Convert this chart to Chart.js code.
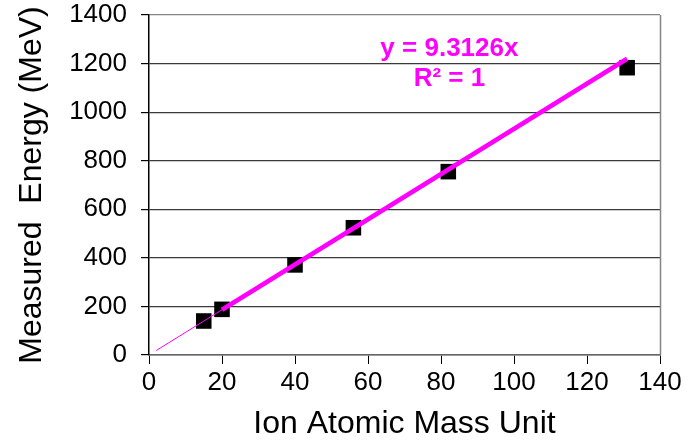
<!DOCTYPE html>
<html>
<head>
<meta charset="utf-8">
<script src="https://cdn.jsdelivr.net/npm/chart.js@4/dist/chart.umd.min.js"></script>
<style>
html,body{margin:0;padding:0;background:#fff;}
#wrap{width:688px;height:443px;}
</style>
</head>
<body>
<div id="wrap"><canvas id="c" width="688" height="443"></canvas></div>
<script>
// Data
const ionMass = [15, 20, 40, 56, 82, 131];
const measuredEnergy = [140, 188, 371, 524, 755, 1183];
// Trendline y = 9.3126x (thin backward part, then thick part)
const trendThinX = [2, 20];
const trendThinY = [18.6, 186.3];
const trendThickX = [20, 131];
const trendThickY = [186.3, 1220];
const xTicks = [0, 20, 40, 60, 80, 100, 120, 140];
const yTicks = [0, 200, 400, 600, 800, 1000, 1200, 1400];
const equationText = "y = 9.3126x";
const r2Text = "R\u00B2 = 1";
const xTitle = "Ion Atomic Mass Unit";
const yTitle = "Measured  Energy (MeV)";

const toPts = (xs, ys) => xs.map((x, i) => ({x: x, y: ys[i]}));

const FONT = "'Liberation Sans', Arial, sans-serif";

const extras = {
  id: 'extras',
  afterDatasetsDraw(chart) {
    const ctx = chart.ctx;
    const a = chart.chartArea;
    const xs = chart.scales.x, ys = chart.scales.y;
    ctx.save();
    // right border of plot area
    ctx.strokeStyle = '#858585';
    ctx.lineWidth = 1.5;
    ctx.beginPath();
    ctx.moveTo(Math.round(a.right) + 0.5, a.top);
    ctx.lineTo(Math.round(a.right) + 0.5, a.bottom);
    ctx.stroke();
    // equation text
    ctx.fillStyle = '#ff00ff';
    ctx.font = "bold 26px " + FONT;
    ctx.textAlign = 'center';
    ctx.textBaseline = 'alphabetic';
    ctx.fillText(equationText, xs.getPixelForValue(82.3), ys.getPixelForValue(1233));
    ctx.fillText(r2Text, xs.getPixelForValue(82.3), ys.getPixelForValue(1107));
    ctx.restore();
  }
};

new Chart(document.getElementById('c'), {
  type: 'scatter',
  data: {
    datasets: [
      {
        data: toPts(trendThickX, trendThickY),
        showLine: true,
        borderColor: '#ff00ff',
        borderWidth: 4.5,
        pointRadius: 0,
        order: 0
      },
      {
        data: toPts(trendThinX, trendThinY),
        showLine: true,
        borderColor: '#ff00ff',
        borderWidth: 1,
        pointRadius: 0,
        order: 1
      },
      {
        data: toPts(ionMass, measuredEnergy),
        showLine: false,
        pointStyle: 'rect',
        pointRadius: 11,
        pointBackgroundColor: '#000',
        pointBorderColor: '#000',
        pointBorderWidth: 0,
        order: 2
      }
    ]
  },
  options: {
    responsive: false,
    animation: false,
    devicePixelRatio: 1,
    layout: {padding: {top: 15, right: 28, bottom: 0, left: 0}},
    plugins: {legend: {display: false}, tooltip: {enabled: false}},
    scales: {
      x: {
        type: 'linear',
        min: 0, max: 140,
        afterBuildTicks: s => { s.ticks = xTicks.map(v => ({value: v})); },
        afterFit: s => { s.height = 88; s.paddingLeft = 0; s.paddingRight = 0; },
        grid: {drawOnChartArea: false, drawTicks: true, tickLength: 9, color: '#000', tickColor: '#000'},
        border: {color: '#666', width: 1.5},
        ticks: {color: '#000', font: {family: FONT, size: 26}, padding: 3, maxRotation: 0,
                callback: v => String(v)},
        title: {display: true, text: xTitle, color: '#000', font: {family: FONT, size: 32}, padding: {top: 0, bottom: 0}}
      },
      y: {
        type: 'linear',
        min: 0, max: 1400,
        afterBuildTicks: s => { s.ticks = yTicks.map(v => ({value: v})); },
        afterFit: s => { s.width = 149; s.paddingTop = 0; s.paddingBottom = 0; },
        grid: {
          drawTicks: true, tickLength: 8,
          color: c => (c.tick && c.tick.value === 1400) ? '#858585' : '#3a3a3a',
          lineWidth: 1.2,
          tickColor: '#000'
        },
        border: {color: '#000', width: 1.5},
        ticks: {color: '#000', font: {family: FONT, size: 26}, padding: 14,
                callback: v => String(v)},
        title: {display: true, text: yTitle, color: '#000', font: {family: FONT, size: 32}, padding: {top: 13, bottom: 0}}
      }
    }
  },
  plugins: [extras]
});
</script>
</body>
</html>
